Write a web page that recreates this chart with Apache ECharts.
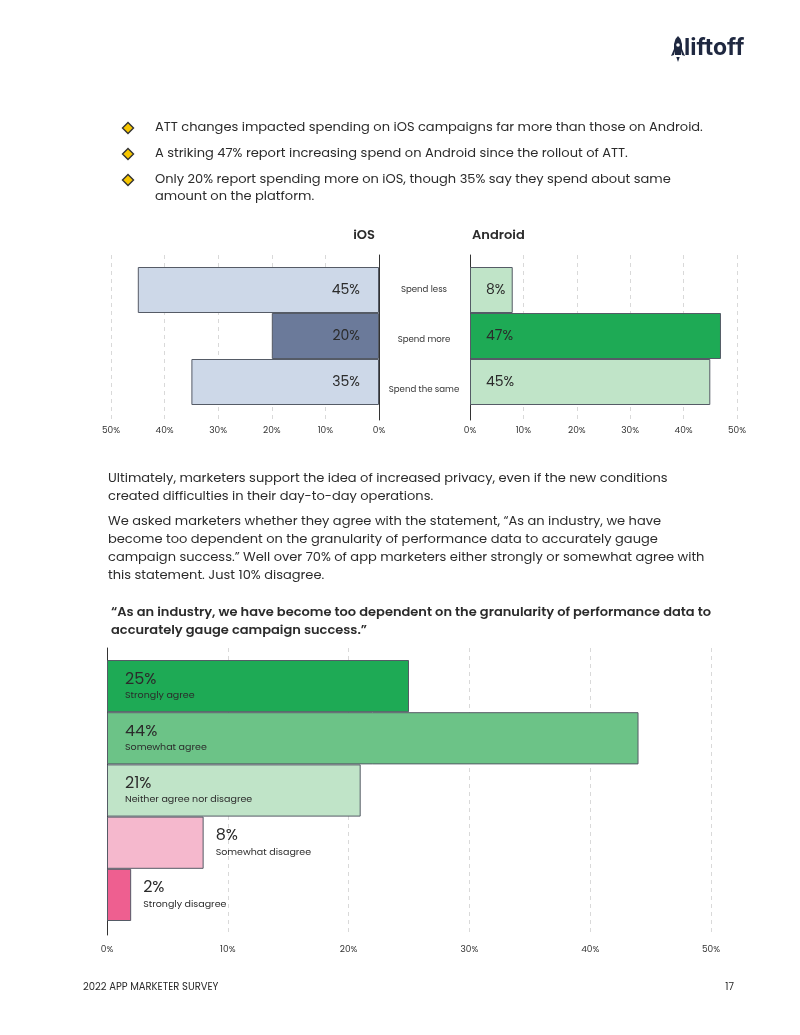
<!DOCTYPE html>
<html><head><meta charset="utf-8">
<script src="https://cdn.jsdelivr.net/npm/echarts@6/dist/echarts.min.js"></script>
<style>html,body{margin:0;padding:0;background:#fff}#c{width:800px;height:1035px}</style>
</head><body><div id="c"></div>
<script>
const platformCats = ['Spend less', 'Spend more', 'Spend the same'];
const iosValues = [45, 20, 35];
const androidValues = [8, 47, 45];
const agreeCats = ['Strongly agree', 'Somewhat agree', 'Neither agree nor disagree', 'Somewhat disagree', 'Strongly disagree'];
const agreeValues = [25, 44, 21, 8, 2];
const bullets = [
  ['ATT changes impacted spending on iOS campaigns far more than those on Android.'],
  ['A striking 47% report increasing spend on Android since the rollout of ATT.'],
  ['Only 20% report spending more on iOS, though 35% say they spend about same', 'amount on the platform.']
];
const paragraphs = [
  ['Ultimately, marketers support the idea of increased privacy, even if the new conditions', 'created difficulties in their day-to-day operations.'],
  ['We asked marketers whether they agree with the statement, \u201cAs an industry, we have', 'become too dependent on the granularity of performance data to accurately gauge', 'campaign success.\u201d Well over 70% of app marketers either strongly or somewhat agree with', 'this statement. Just 10% disagree.']
];
const quoteLines = ['\u201cAs an industry, we have become too dependent on the granularity of performance data to', 'accurately gauge campaign success.\u201d'];

const FONT = 'Poppins, Inter, sans-serif';
const TXT = '#2b2b2b';
const iosColors = ['#cdd8e8', '#6b7a9a', '#cdd8e8'];
const androidColors = ['#c0e4c8', '#1eaa55', '#c0e4c8'];
const agreeColors = ['#1eaa55', '#6cc387', '#c0e4c8', '#f5b8cd', '#ee5f90'];
const BORDER = '#555b66';
const SPLIT = { show: true, lineStyle: { type: [4, 4], color: '#d9d9d9', width: 1 } };

const chart = echarts.init(document.getElementById('c'), null, { renderer: 'canvas' });

const g = [];
function txt(s, x, y, size, weight, align, fill, family) {
  g.push({ type: 'text', x: x, y: y, style: { text: s, fill: fill || TXT, fontFamily: family || FONT, fontSize: size, fontWeight: weight || 'normal', textVerticalAlign: 'middle', verticalAlign: 'middle', textAlign: align || 'left', align: align || 'left' } });
}
// logo
const LOGO = '#1f2840';
g.push({ type: 'polygon', shape: { points: [[678, 36], [680.5, 39], [682, 44], [682, 51], [681, 55], [675, 55], [674, 51], [674, 44], [675.5, 39]] }, style: { fill: LOGO } });
g.push({ type: 'polygon', shape: { points: [[674, 49], [671, 56], [674, 55]] }, style: { fill: LOGO } });
g.push({ type: 'polygon', shape: { points: [[682, 49], [685, 56], [682, 55]] }, style: { fill: LOGO } });
g.push({ type: 'polygon', shape: { points: [[676.3, 57], [679.7, 57], [678, 62]] }, style: { fill: LOGO } });
g.push({ type: 'circle', shape: { cx: 678, cy: 45, r: 1.8 }, style: { fill: '#fff' } });
txt('liftoff', 684, 48, 23, 'bold', 'left', LOGO, 'Inter, sans-serif');

const bulletY = [[128], [154], [180, 197]];
bullets.forEach((lines, i) => {
  const y0 = bulletY[i][0];
  g.push({ type: 'polygon', shape: { points: [[128, y0 - 5.5], [133.5, y0], [128, y0 + 5.5], [122.5, y0]] }, style: { fill: '#f7c600', stroke: '#333', lineWidth: 1.4 } });
  lines.forEach((l, j) => txt(l, 155, bulletY[i][j], 13));
});
const paraY = [[479, 497], [522, 540, 558, 576]];
paragraphs.forEach((lines, i) => lines.forEach((l, j) => txt(l, 108, paraY[i][j], 13)));
quoteLines.forEach((l, j) => txt(l, 111, [613, 631][j], 13, 600));
txt('iOS', 364, 236, 13, 600, 'center');
txt('Android', 472, 236, 13, 600);
txt('2022 APP MARKETER SURVEY', 83, 987, 10);
txt('17', 734, 987, 10, 'normal', 'right');

const axisLbl = { color: '#333', fontSize: 9, fontFamily: FONT, formatter: '{value}%' };

function frameX(gi, inverse, margin) {
  return { gridIndex: gi, type: 'value', min: 0, max: 50, interval: 10, inverse: inverse, axisLine: { show: false }, axisTick: { show: false }, splitLine: SPLIT, axisLabel: Object.assign({ margin: margin }, axisLbl) };
}
function frameY(gi, pos) {
  return { gridIndex: gi, type: 'value', min: 0, max: 1, position: pos, axisLine: { show: true, onZero: false, lineStyle: { color: '#333', width: 1 } }, axisTick: { show: false }, axisLabel: { show: false }, splitLine: { show: false } };
}
function barX(gi, inverse) {
  return { gridIndex: gi, type: 'value', min: 0, max: 50, inverse: inverse, show: false };
}
const catRich = {};
[0, 8, 15].forEach((p, i) => { catRich['c' + i] = { padding: [p, 0, 0, 0], fontSize: 8.6, fontFamily: FONT, color: '#333', align: 'center' }; });

const option = {
  animation: false,
  graphic: g,
  grid: [
    { left: 111, top: 267, width: 268, height: 138 },
    { left: 111, top: 255, width: 268, height: 165 },
    { left: 470, top: 267, width: 267, height: 138 },
    { left: 470, top: 255, width: 267, height: 165 },
    { left: 107, top: 660, width: 604, height: 261 },
    { left: 107, top: 648, width: 604, height: 287 }
  ],
  xAxis: [
    barX(0, true), frameX(1, true, 6),
    barX(2, false), frameX(3, false, 6),
    barX(4, false), frameX(5, false, 10)
  ],
  yAxis: [
    { gridIndex: 0, type: 'category', data: platformCats, inverse: true, show: false },
    frameY(1, 'right'),
    { gridIndex: 2, type: 'category', inverse: true, axisLine: { show: false }, axisTick: { show: false },
      data: platformCats,
      axisLabel: { margin: 46, align: 'center', color: '#333', fontSize: 8.6, fontFamily: FONT,
        formatter: (v, i) => '{c' + i + '|' + v + '}', rich: catRich } },
    frameY(3, 'left'),
    { gridIndex: 4, type: 'category', data: agreeCats, inverse: true, show: false },
    frameY(5, 'left')
  ],
  series: [
    { type: 'bar', xAxisIndex: 0, yAxisIndex: 0, barCategoryGap: '0%', z: 3,
      data: iosValues.map((v, i) => ({ value: v, itemStyle: { color: iosColors[i] } })),
      itemStyle: { borderColor: BORDER, borderWidth: 1 },
      label: { show: true, position: 'insideRight', distance: 19, formatter: '{c}%', color: '#2b2b2b', fontSize: 14, fontFamily: FONT } },
    { type: 'bar', xAxisIndex: 2, yAxisIndex: 2, barCategoryGap: '0%', z: 3,
      data: androidValues.map((v, i) => ({ value: v, itemStyle: { color: androidColors[i] } })),
      itemStyle: { borderColor: BORDER, borderWidth: 1 },
      label: { show: true, position: 'insideLeft', distance: 16, formatter: '{c}%', color: '#2b2b2b', fontSize: 14, fontFamily: FONT } },
    { type: 'bar', xAxisIndex: 4, yAxisIndex: 4, barCategoryGap: '0%', z: 3,
      data: agreeValues.map((v, i) => ({
        value: v, itemStyle: { color: agreeColors[i] },
        label: v >= 10 ? { position: 'insideLeft', distance: 18 } : { position: 'right', distance: 12 }
      })),
      itemStyle: { borderColor: BORDER, borderWidth: 1 },
      label: { show: true, color: '#2b2b2b', fontFamily: FONT,
        formatter: p => '{v|' + p.value + '%}\n{n|' + agreeCats[p.dataIndex] + '}',
        rich: { v: { fontSize: 16, lineHeight: 19, fontFamily: FONT, color: '#2b2b2b' }, n: { fontSize: 9.5, lineHeight: 13, fontFamily: FONT, color: '#2b2b2b' } } } }
  ]
};
chart.setOption(option);
</script></body></html>
